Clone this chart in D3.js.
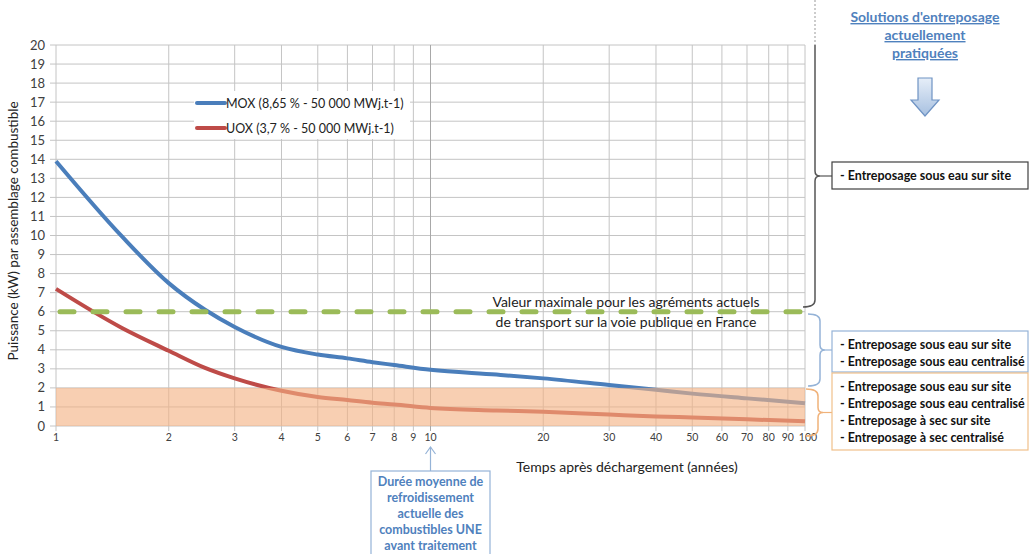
<!DOCTYPE html>
<html>
<head>
<meta charset="utf-8">
<script src="https://cdn.jsdelivr.net/npm/d3@7"></script>
<style>
  body { margin: 0; background: #fff; }
  svg { font-family: Lato, "Noto Sans", sans-serif; }
</style>
</head>
<body>
<script>
// values
const years = [1, 1.5, 2, 2.5, 3, 4, 5, 6, 7, 8, 10, 15, 20, 30, 40, 50, 70, 100];
const mox = [13.9, 9.95, 7.5, 6.1, 5.2, 4.15, 3.75, 3.55, 3.35, 3.2, 2.95, 2.7, 2.5, 2.15, 1.9, 1.7, 1.45, 1.2];
const uox = [7.2, 5.15, 3.95, 3.05, 2.5, 1.85, 1.52, 1.36, 1.22, 1.13, 0.95, 0.82, 0.75, 0.6, 0.5, 0.45, 0.35, 0.25];
const xTicks = [1, 2, 3, 4, 5, 6, 7, 8, 9, 10, 20, 30, 40, 50, 60, 70, 80, 90, 100];
const yTicks = d3.range(0, 21);
const limitTransport = 6;
const limitDry = 2;

const w = 1030;
const h = 554;

const svg = d3.select("body")
  .append("svg")
  .attr("width", w)
  .attr("height", h);

const x = d3.scaleLog().domain([1, 100]).range([56, 805]);
const y = d3.scaleLinear().domain([0, 20]).range([426, 45]);

// grid
svg.append("g")
  .selectAll("line")
  .data(yTicks)
  .enter()
  .append("line")
  .attr("x1", x(1) - 6)
  .attr("x2", x(100))
  .attr("y1", (d) => y(d))
  .attr("y2", (d) => y(d))
  .attr("stroke", "#c4c4c4")
  .attr("stroke-width", 1);

svg.append("g")
  .selectAll("line")
  .data(xTicks)
  .enter()
  .append("line")
  .attr("x1", (d) => x(d))
  .attr("x2", (d) => x(d))
  .attr("y1", y(20))
  .attr("y2", y(0) + 5)
  .attr("stroke", (d) => d == 10 ? "#a8a8a8" : "#c4c4c4")
  .attr("stroke-width", 1);

// axes labels
svg.append("g")
  .selectAll("text")
  .data(yTicks)
  .enter()
  .append("text")
  .attr("x", 45)
  .attr("y", (d) => y(d) + 4.5)
  .attr("text-anchor", "end")
  .style("font-size", "13px")
  .style("fill", "#404040")
  .text((d) => d);

svg.append("g")
  .selectAll("text")
  .data(xTicks)
  .enter()
  .append("text")
  .attr("x", (d) => d == 100 ? x(d) + 3 : x(d))
  .attr("y", 441)
  .attr("text-anchor", "middle")
  .style("font-size", "10.5px")
  .style("fill", "#404040")
  .text((d) => d);

svg.append("text")
  .attr("transform", "translate(18,231) rotate(-90)")
  .attr("text-anchor", "middle")
  .style("font-size", "13.5px")
  .style("fill", "#222")
  .text("Puissance (kW) par assemblage combustible");

svg.append("text")
  .attr("x", 627)
  .attr("y", 472)
  .attr("text-anchor", "middle")
  .style("font-size", "14px")
  .style("fill", "#222")
  .text("Temps après déchargement (années)");

// curves
const line = d3.line()
  .x((d) => x(d[0]))
  .y((d) => y(d[1]))
  .curve(d3.curveMonotoneX);

svg.append("path")
  .datum(years.map((t, i) => [t, mox[i]]))
  .attr("d", line)
  .attr("fill", "none")
  .attr("stroke", "#4a7ebb")
  .attr("stroke-width", 4);

svg.append("path")
  .datum(years.map((t, i) => [t, uox[i]]))
  .attr("d", line)
  .attr("fill", "none")
  .attr("stroke", "#be4b48")
  .attr("stroke-width", 4);

// dry storage band drawn over the lines
svg.append("rect")
  .attr("x", x(1))
  .attr("y", y(limitDry))
  .attr("width", x(100) - x(1))
  .attr("height", y(0) - y(limitDry))
  .attr("fill", "#f4b183")
  .attr("opacity", 0.62);

// transport limit
svg.append("line")
  .attr("x1", x(1))
  .attr("x2", x(100))
  .attr("y1", y(limitTransport))
  .attr("y2", y(limitTransport))
  .attr("stroke", "#9bbb59")
  .attr("stroke-width", 5)
  .attr("stroke-linecap", "round")
  .attr("stroke-dasharray", "14 19")
  .attr("stroke-dashoffset", -4);

svg.append("text")
  .attr("x", 626)
  .attr("y", y(limitTransport) - 5)
  .attr("text-anchor", "middle")
  .style("font-size", "14px")
  .style("fill", "#222")
  .text("Valeur maximale pour les agréments actuels");

svg.append("text")
  .attr("x", 626)
  .attr("y", y(limitTransport) + 15)
  .attr("text-anchor", "middle")
  .style("font-size", "14px")
  .style("fill", "#222")
  .text("de transport sur la voie publique en France");

// legend
const legend = [
  { name: "MOX (8,65 % - 50 000 MWj.t-1)", color: "#4a7ebb" },
  { name: "UOX (3,7 % - 50 000 MWj.t-1)", color: "#be4b48" }
];

svg.append("rect")
  .attr("x", 194)
  .attr("y", 91)
  .attr("width", 216)
  .attr("height", 48)
  .attr("fill", "#fff");

const lg = svg.append("g")
  .selectAll("g")
  .data(legend)
  .enter()
  .append("g")
  .attr("transform", (d, i) => `translate(197,${103 + i * 25})`);

lg.append("line")
  .attr("x1", 0)
  .attr("x2", 28)
  .attr("stroke", (d) => d.color)
  .attr("stroke-width", 4)
  .attr("stroke-linecap", "round");

lg.append("text")
  .attr("x", 29)
  .attr("y", 4.5)
  .style("font-size", "12.5px")
  .style("fill", "#222")
  .text((d) => d.name);

// right side: braces and boxes
function brace(bx, y0, y1, curlTop, curlBot, color) {
  const ym = (y0 + y1) / 2;
  let p = curlTop ? `M${bx - 12},${y0} Q${bx},${y0} ${bx},${y0 + 7}` : `M${bx},${y0}`;
  p += ` L${bx},${ym - 5} Q${bx},${ym} ${bx + 5},${ym} Q${bx},${ym} ${bx},${ym + 5}`;
  p += curlBot ? ` L${bx},${y1 - 7} Q${bx},${y1} ${bx - 12},${y1}` : ` L${bx},${y1}`;
  svg.append("path")
    .attr("d", p)
    .attr("fill", "none")
    .attr("stroke", color)
    .attr("stroke-width", 1.5);
  svg.append("line")
    .attr("x1", bx + 5)
    .attr("x2", 832)
    .attr("y1", ym)
    .attr("y2", ym)
    .attr("stroke", color)
    .attr("stroke-width", 1.2);
  return ym;
}

svg.append("line")
  .attr("x1", 815)
  .attr("x2", 815)
  .attr("y1", 0)
  .attr("y2", 45)
  .attr("stroke", "#999")
  .attr("stroke-dasharray", "2 2");

brace(815, 45, 307, false, true, "#555");
brace(820, 314, 386, true, true, "#95b3d7");
brace(818, 389, 436, true, true, "#f0b27a");

const boxes = [
  { y: 162, h: 27, stroke: "#404040", lines: ["- Entreposage sous eau sur site"] },
  { y: 331, h: 41, stroke: "#95b3d7", lines: ["- Entreposage sous eau sur site", "- Entreposage sous eau centralisé"] },
  { y: 373, h: 77, stroke: "#f0c08a", lines: ["- Entreposage sous eau sur site", "- Entreposage sous eau centralisé", "- Entreposage à sec sur site", "- Entreposage à sec centralisé"] }
];

const bg = svg.append("g")
  .selectAll("g")
  .data(boxes)
  .enter()
  .append("g");

bg.append("rect")
  .attr("x", 832)
  .attr("y", (d) => d.y)
  .attr("width", 196)
  .attr("height", (d) => d.h)
  .attr("fill", "#fff")
  .attr("stroke", (d) => d.stroke)
  .attr("stroke-width", 1.2);

bg.each(function (d) {
  d3.select(this).selectAll("text")
    .data(d.lines)
    .enter()
    .append("text")
    .attr("x", 840)
    .attr("y", (t, i) => d.y + 17.5 + i * 17.3)
    .style("font-size", "12.5px")
    .style("font-weight", "bold")
    .style("fill", "#111")
    .text((t) => t);
});

// header
svg.append("g")
  .selectAll("text")
  .data(["Solutions d'entreposage", "actuellement", "pratiquées"])
  .enter()
  .append("text")
  .attr("x", 925)
  .attr("y", (d, i) => 22 + i * 18)
  .attr("text-anchor", "middle")
  .style("font-size", "14px")
  .style("font-weight", "bold")
  .style("fill", "#4f81bd")
  .style("text-decoration", "underline")
  .text((d) => d);

const grad = svg.append("defs")
  .append("linearGradient")
  .attr("id", "arrowFill")
  .attr("x1", 0).attr("x2", 0).attr("y1", 0).attr("y2", 1);
grad.append("stop").attr("offset", "0%").attr("stop-color", "#e6eef8");
grad.append("stop").attr("offset", "100%").attr("stop-color", "#a7c0e0");

svg.append("path")
  .attr("d", "M918,78 L932,78 L932,100 L939,100 L925,116 L911,100 L918,100 Z")
  .attr("fill", "url(#arrowFill)")
  .attr("stroke", "#6f93c4")
  .attr("stroke-width", 1.2);

// bottom note
svg.append("line")
  .attr("x1", x(10))
  .attr("x2", x(10))
  .attr("y1", 447)
  .attr("y2", 471)
  .attr("stroke", "#95b3d7")
  .attr("stroke-width", 1.2);

svg.append("path")
  .attr("d", `M${x(10) - 5},${454} L${x(10)},${447} L${x(10) + 5},${454}`)
  .attr("fill", "none")
  .attr("stroke", "#95b3d7")
  .attr("stroke-width", 1.2);

svg.append("rect")
  .attr("x", 371)
  .attr("y", 471)
  .attr("width", 119)
  .attr("height", 86)
  .attr("fill", "#fff")
  .attr("stroke", "#95b3d7")
  .attr("stroke-width", 1.2);

svg.append("g")
  .selectAll("text")
  .data(["Durée moyenne de", "refroidissement", "actuelle des", "combustibles UNE", "avant traitement"])
  .enter()
  .append("text")
  .attr("x", 430.5)
  .attr("y", (d, i) => 486 + i * 16)
  .attr("text-anchor", "middle")
  .style("font-size", "12.5px")
  .style("font-weight", "bold")
  .style("fill", "#4f81bd")
  .text((d) => d);
</script>
</body>
</html>
